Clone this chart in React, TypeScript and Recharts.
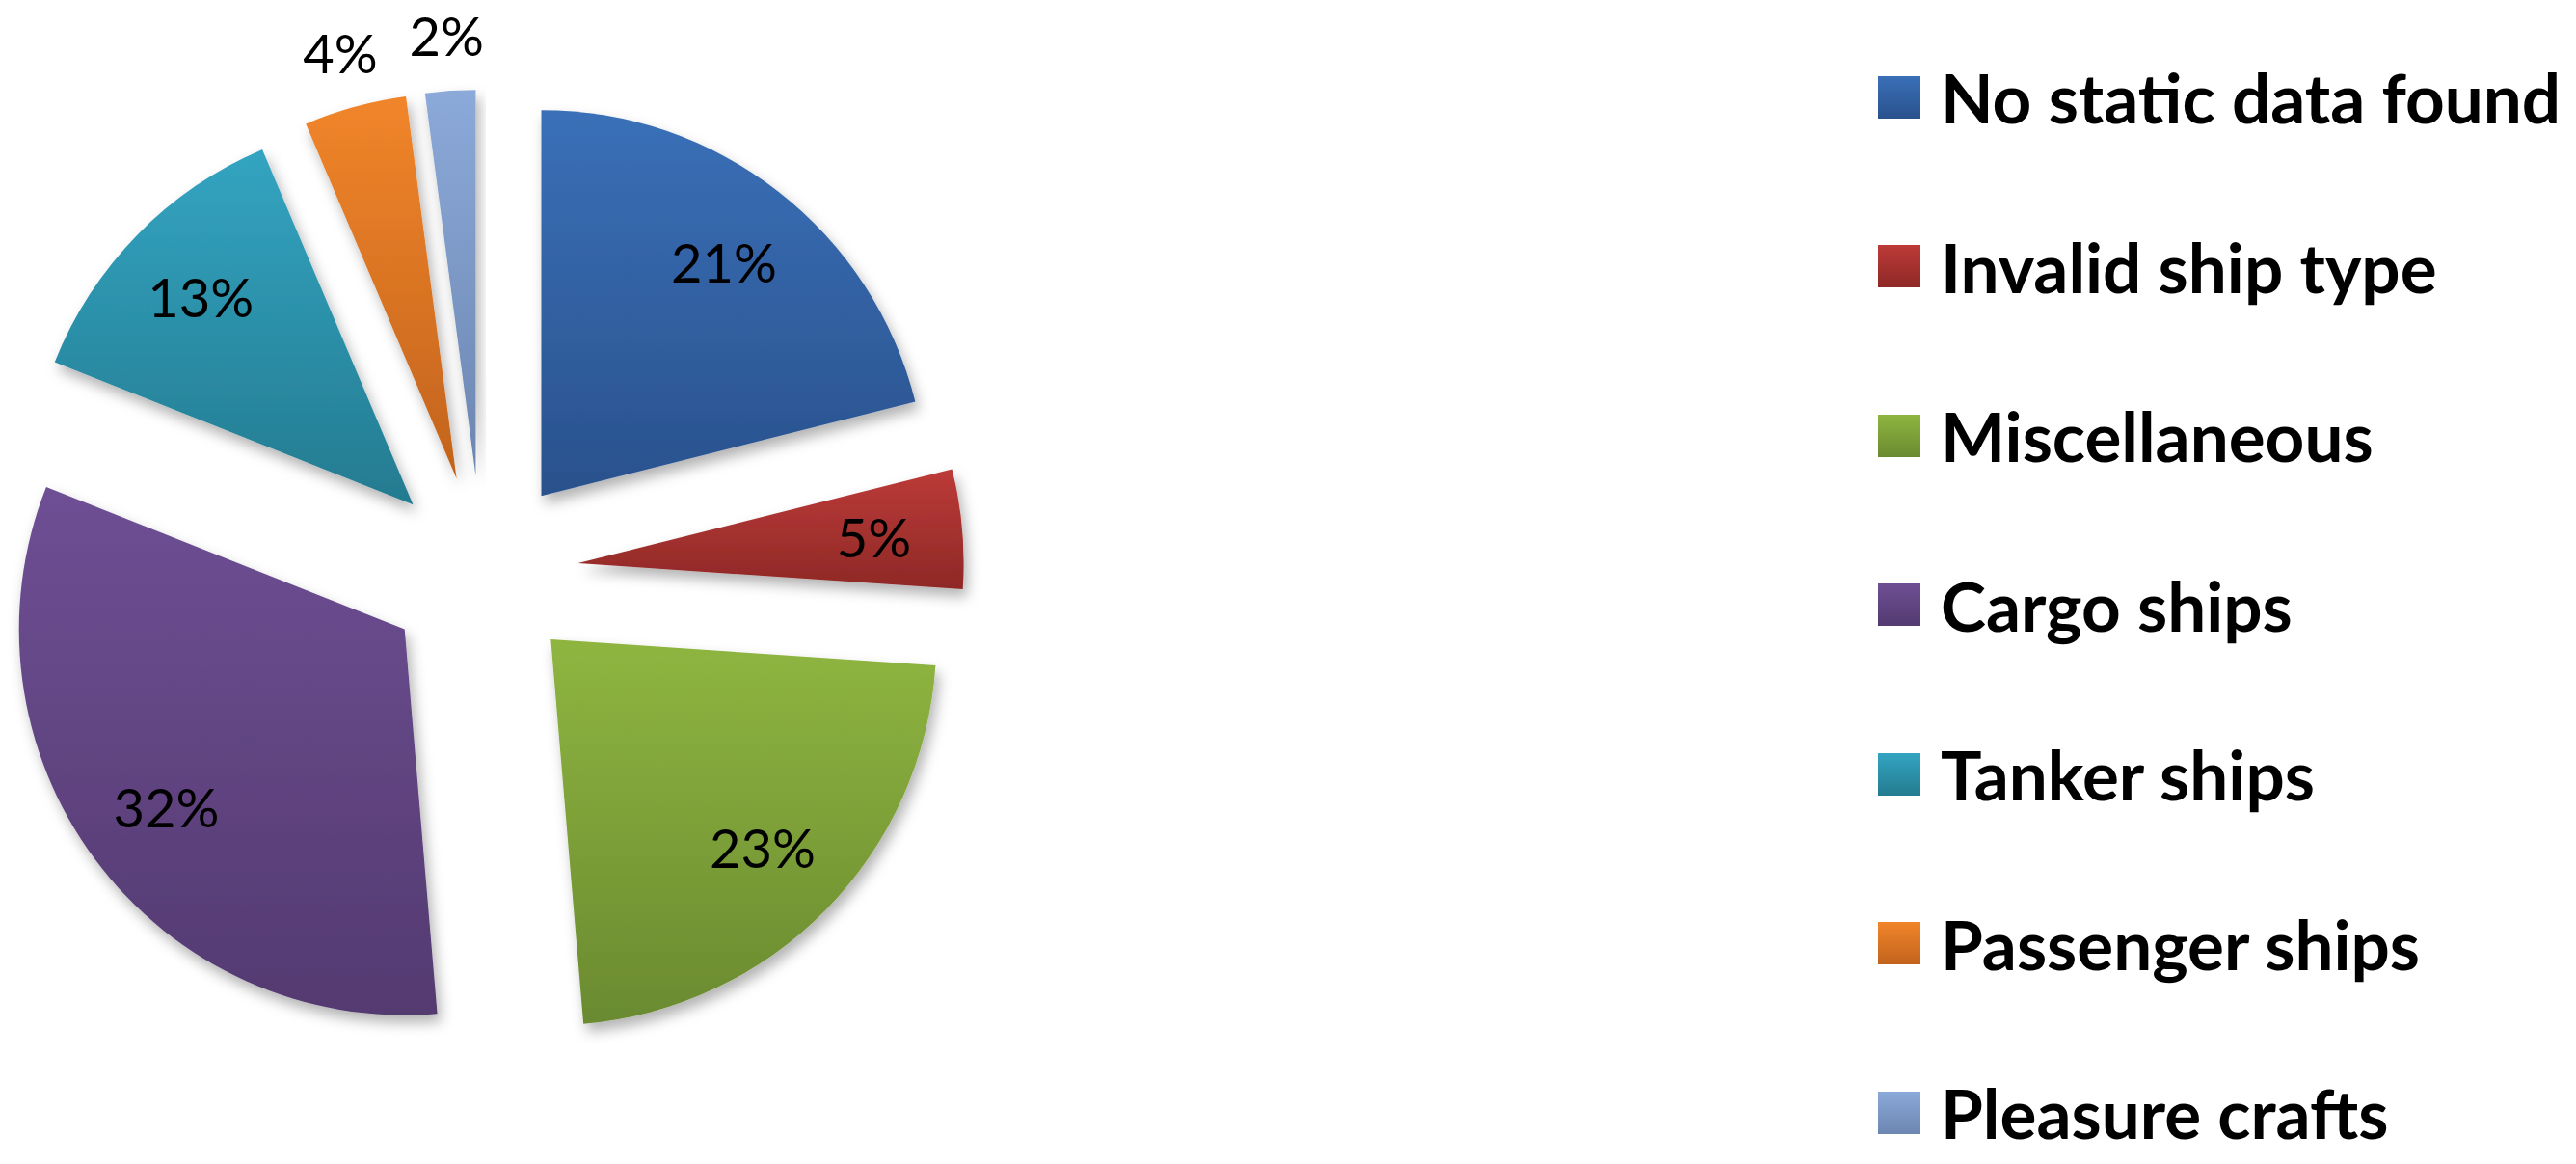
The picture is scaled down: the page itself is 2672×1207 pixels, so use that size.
import { Cell, Legend, Pie, PieChart } from "recharts";

const categories = [
  "No static data found",
  "Invalid ship type",
  "Miscellaneous",
  "Cargo ships",
  "Tanker ships",
  "Passenger ships",
  "Pleasure crafts",
];

// share of each category in percent
const shares = [21.1, 5.0, 22.6, 32.4, 12.6, 4.3, 2.1];

const topColors = ["#3A70B8", "#BC3B38", "#8FB540", "#6E4F94", "#33A4C1", "#F1852A", "#8BA9D9"];
const bottomColors = ["#29518C", "#8E2826", "#6A8A30", "#533A70", "#247B90", "#C2631D", "#6C86B0"];

const W = 2672;
const H = 1207;
const CX = 500;
const CY = 593;
const RADIUS = 400;
const EXPLODE = 100;
const FONT = "Lato, 'Open Sans', sans-serif";

const data = categories.map((name, i) => ({ name, value: shares[i] }));
const total = shares.reduce((a, b) => a + b, 0);

// recharts angle (0 = east, counter-clockwise) of each slice's middle, pie runs clockwise from 12 o'clock
const midAngles = (() => {
  let acc = 0;
  return shares.map((v) => {
    const m = 90 - (360 * (acc + v / 2)) / total;
    acc += v;
    return m;
  });
})();

const renderLabel = (slice: number) => (props: any) => {
  if (props.index !== slice) return null;
  const { cx, cy, midAngle, outerRadius, percent } = props;
  const outside = percent < 0.045;
  const r = outside ? outerRadius + 58 : outerRadius * 0.77;
  const rad = (midAngle * Math.PI) / 180;
  return (
    <text
      x={cx + r * Math.cos(rad)}
      y={cy - r * Math.sin(rad)}
      textAnchor="middle"
      dominantBaseline="central"
      fontSize={56}
      fontFamily={FONT}
      fill="#000"
    >
      {Math.round(percent * 100)}%
    </text>
  );
};

const renderLegend = () => (
  <div style={{ position: "relative", width: 724, height: H }}>
    {categories.map((name, i) => (
      <div
        key={name}
        style={{
          position: "absolute",
          left: 0,
          top: 13 + 175.5 * i,
          height: 175.5,
          display: "flex",
          alignItems: "center",
          whiteSpace: "nowrap",
        }}
      >
        <span
          style={{
            width: 44,
            height: 44,
            marginRight: 21,
            background: `linear-gradient(${topColors[i]}, ${bottomColors[i]})`,
          }}
        />
        <span style={{ fontFamily: FONT, fontWeight: 700, fontSize: 71, lineHeight: 1, color: "#000" }}>{name}</span>
      </div>
    ))}
  </div>
);

export default function App() {
  return (
    <div style={{ position: "absolute", left: 0, top: 0, width: W, height: H, background: "#fff" }}>
      <PieChart width={W} height={H} margin={{ top: 0, right: 0, bottom: 0, left: 0 }}>
        <defs>
          <filter id="sliceShadow" x="-20%" y="-20%" width="140%" height="140%">
            <feDropShadow dx="4" dy="8" stdDeviation="7" floodColor="#000" floodOpacity="0.3" />
          </filter>
          {categories.map((_, i) => (
            <linearGradient key={i} id={`grad${i}`} x1="0" y1="0" x2="0" y2="1">
              <stop offset="0%" stopColor={topColors[i]} />
              <stop offset="100%" stopColor={bottomColors[i]} />
            </linearGradient>
          ))}
        </defs>
        {categories.map((_, slice) => {
          const rad = (midAngles[slice] * Math.PI) / 180;
          return (
            <Pie
              key={slice}
              data={data}
              dataKey="value"
              nameKey="name"
              cx={CX + EXPLODE * Math.cos(rad)}
              cy={CY - EXPLODE * Math.sin(rad)}
              outerRadius={RADIUS}
              startAngle={90}
              endAngle={-270}
              stroke="none"
              label={renderLabel(slice)}
              labelLine={false}
              isAnimationActive={false}
              legendType="none"
            >
              {data.map((d, i) => (
                <Cell
                  key={d.name}
                  fill={i === slice ? `url(#grad${i})` : "none"}
                  stroke="none"
                  filter={i === slice ? "url(#sliceShadow)" : undefined}
                />
              ))}
            </Pie>
          );
        })}
        <Legend
          content={renderLegend}
          layout="vertical"
          verticalAlign="top"
          align="right"
          wrapperStyle={{ left: 1948, top: 0, width: 724, height: H }}
        />
      </PieChart>
    </div>
  );
}
